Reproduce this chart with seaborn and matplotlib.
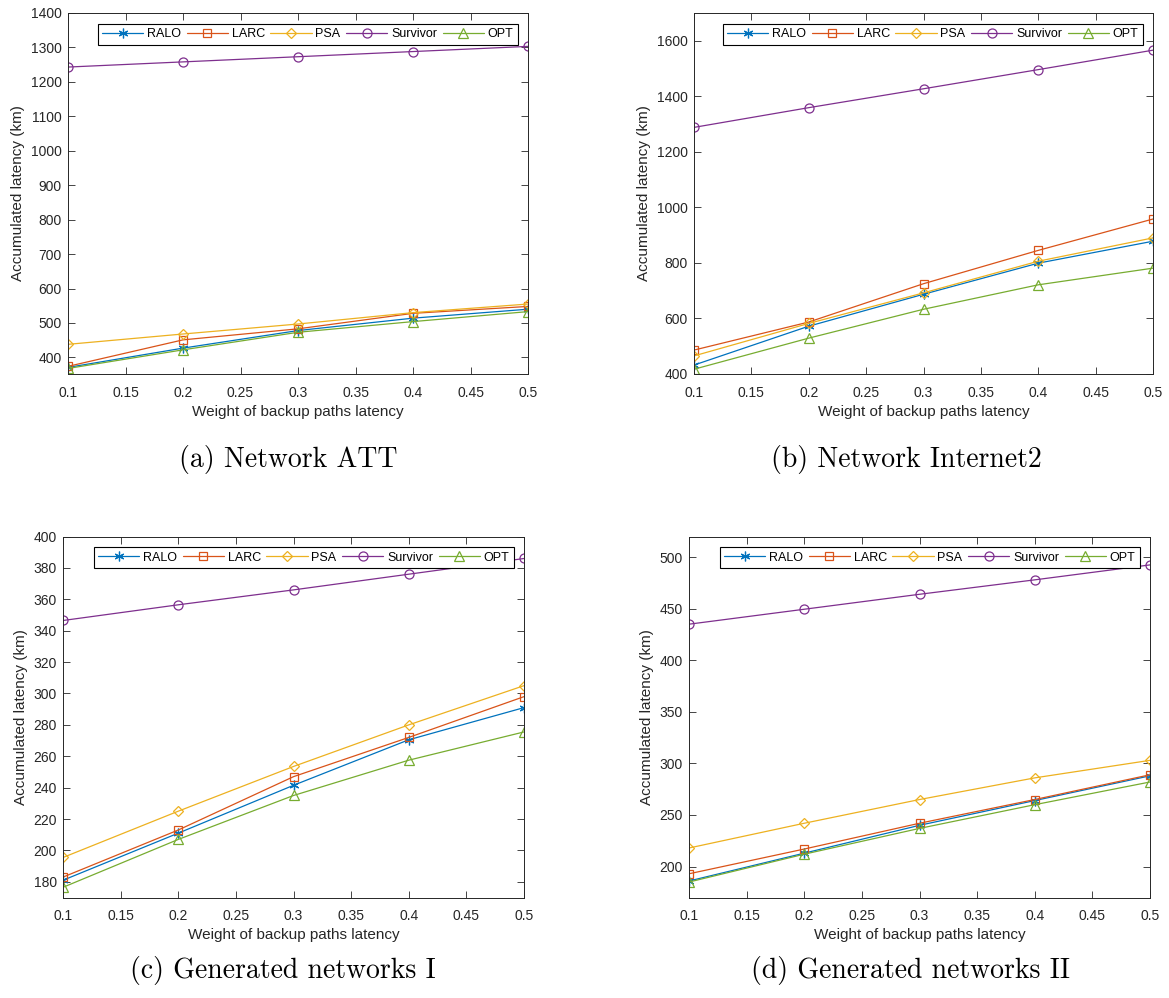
import matplotlib
matplotlib.use("Agg")
import matplotlib.pyplot as plt
import pandas as pd
import seaborn as sns

# ---- data -------------------------------------------------------------
weights = [0.1, 0.2, 0.3, 0.4, 0.5]
x_ticks = [0.1, 0.15, 0.2, 0.25, 0.3, 0.35, 0.4, 0.45, 0.5]
x_tick_labels = ["0.1", "0.15", "0.2", "0.25", "0.3", "0.35", "0.4", "0.45", "0.5"]
methods = ["RALO", "LARC", "PSA", "Survivor", "OPT"]

att_ralo = [371, 427, 478, 514, 540]
att_larc = [374, 451, 483, 528, 548]
att_psa = [438, 468, 497, 530, 555]
att_survivor = [1243, 1258, 1273, 1288, 1303]
att_opt = [368, 422, 473, 504, 533]

i2_ralo = [432, 572, 687, 799, 878]
i2_larc = [486, 587, 725, 845, 958]
i2_psa = [465, 582, 692, 806, 890]
i2_survivor = [1288, 1359, 1427, 1496, 1566]
i2_opt = [417, 529, 633, 721, 781]

g1_ralo = [181, 211, 241.5, 270.5, 291]
g1_larc = [183, 213, 247, 272, 298]
g1_psa = [195.5, 225, 253.5, 280, 305]
g1_survivor = [346.5, 356.5, 366, 376, 386]
g1_opt = [176.5, 207, 235, 257.5, 275.5]

g2_ralo = [186, 213, 240, 264, 288]
g2_larc = [193, 217, 242, 265, 289]
g2_psa = [218, 242, 265, 286, 303]
g2_survivor = [435, 449.5, 464, 478, 492.5]
g2_opt = [185, 212, 237, 260, 282]

att_yticks = [400, 500, 600, 700, 800, 900, 1000, 1100, 1200, 1300, 1400]
i2_yticks = [400, 600, 800, 1000, 1200, 1400, 1600]
g1_yticks = [180, 200, 220, 240, 260, 280, 300, 320, 340, 360, 380, 400]
g2_yticks = [200, 250, 300, 350, 400, 450, 500]

captions = ["(a) Network ATT", "(b) Network Internet2",
            "(c) Generated networks I", "(d) Generated networks II"]
x_label = "Weight of backup paths latency"
y_label = "Accumulated latency (km)"

# ---- styling ----------------------------------------------------------
sns.set_theme(style="white")
plt.rcParams["font.family"] = ["Liberation Sans", "DejaVu Sans"]
plt.rcParams["axes.unicode_minus"] = False

palette = {"RALO": "#0072BD", "LARC": "#D95319", "PSA": "#EDB120",
           "Survivor": "#7E2F8E", "OPT": "#77AC30"}
marker_style = {"RALO": ((6, 2, 0), 7), "LARC": ("s", 5.5), "PSA": ("D", 5.5),
                "Survivor": ("o", 6.5), "OPT": ("^", 7)}
ink = "#262626"

panels = [
    dict(series=[att_ralo, att_larc, att_psa, att_survivor, att_opt],
         ylim=(352, 1400), yticks=att_yticks,
         rect=[0.0582, 0.6253, 0.3935, 0.3617], cap=(0.247, 0.525)),
    dict(series=[i2_ralo, i2_larc, i2_psa, i2_survivor, i2_opt],
         ylim=(400, 1700), yticks=i2_yticks,
         rect=[0.5937, 0.6253, 0.3926, 0.3617], cap=(0.775, 0.525)),
    dict(series=[g1_ralo, g1_larc, g1_psa, g1_survivor, g1_opt],
         ylim=(170, 400), yticks=g1_yticks,
         rect=[0.0539, 0.1007, 0.3944, 0.3617], cap=(0.242, 0.013)),
    dict(series=[g2_ralo, g2_larc, g2_psa, g2_survivor, g2_opt],
         ylim=(170, 520), yticks=g2_yticks,
         rect=[0.5894, 0.1007, 0.3944, 0.3617], cap=(0.779, 0.013)),
]

fig = plt.figure(figsize=(11.69, 9.98), dpi=100)
fig.patch.set_facecolor("white")

for panel, caption in zip(panels, captions):
    ax = fig.add_axes(panel["rect"])
    ax.set_facecolor("white")
    for name, values in zip(methods, panel["series"]):
        df = pd.DataFrame({"weight": weights, "latency": values})
        mk, ms = marker_style[name]
        sns.lineplot(data=df, x="weight", y="latency", ax=ax,
                     color=palette[name], label=name, linewidth=0.9,
                     marker=mk, markersize=ms, markerfacecolor="none",
                     markeredgecolor=palette[name], markeredgewidth=0.9)

    ax.set_xlim(0.1, 0.5)
    ax.set_ylim(*panel["ylim"])
    ax.set_xticks(x_ticks)
    ax.set_xticklabels(x_tick_labels)
    ax.set_yticks(panel["yticks"])
    ax.set_yticklabels([str(t) for t in panel["yticks"]])
    ax.tick_params(direction="in", length=5, width=0.6, color=ink,
                   labelsize=10, labelcolor=ink, top=True, right=True,
                   bottom=True, left=True)
    ax.tick_params(axis="x", pad=8.5)
    ax.tick_params(axis="y", pad=4.5)
    for sp in ax.spines.values():
        sp.set_visible(True)
        sp.set_color(ink)
        sp.set_linewidth(0.7)
    ax.grid(False)
    ax.set_xlabel(x_label, fontsize=11, color=ink, labelpad=3.5)
    ax.set_ylabel(y_label, fontsize=11, color=ink, labelpad=4)

    leg = ax.legend(loc="upper right", bbox_to_anchor=(0.978, 0.97), ncol=5,
                    fontsize=9, handlelength=3.3, handletextpad=0.3,
                    columnspacing=0.45, borderpad=0.35, borderaxespad=0.0,
                    frameon=True, fancybox=False, framealpha=1,
                    edgecolor="black")
    leg.get_frame().set_linewidth(0.8)
    for t in leg.get_texts():
        t.set_color("black")

    fig.text(panel["cap"][0], panel["cap"][1], caption, ha="center",
             va="bottom", fontsize=20, family="cmr10", color="black")

fig.savefig("out.png", dpi=100, facecolor="white")
